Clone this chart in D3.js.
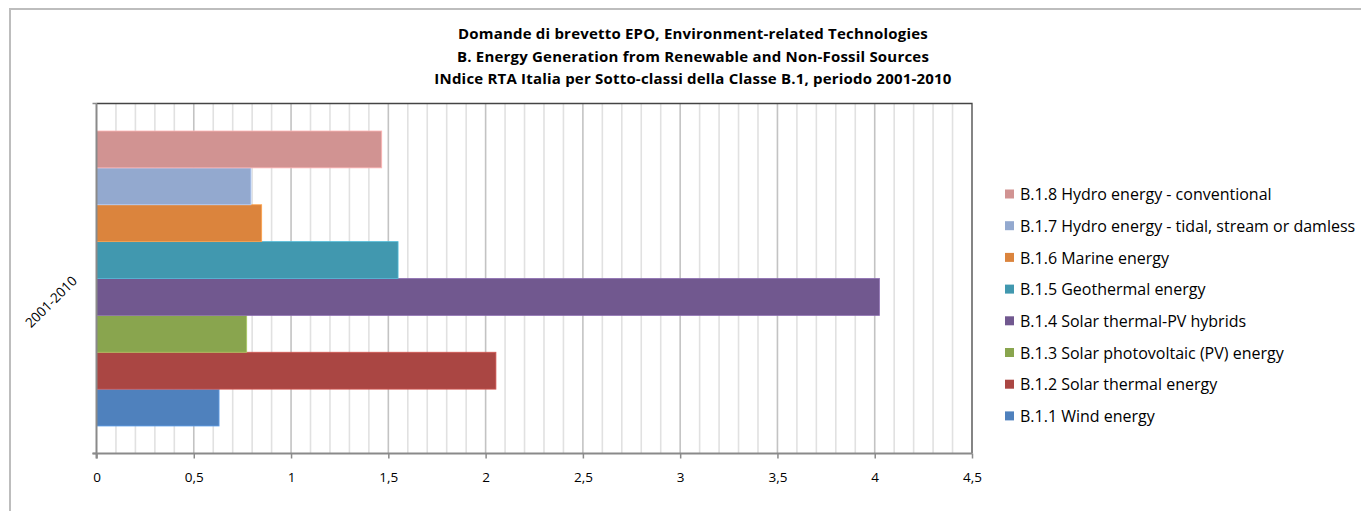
<!DOCTYPE html>
<html>
<head>
<meta charset="utf-8">
<script src="https://cdn.jsdelivr.net/npm/d3@7"></script>
<style>
  html, body { margin: 0; padding: 0; background: #fff; }
  svg { display: block; }
</style>
</head>
<body>
<div id="chart"></div>
<script>
const width = 1361;
const height = 511;

// Data
const categories = ['2001-2010'];
const seriesNames = [
  'B.1.1 Wind energy',
  'B.1.2 Solar thermal energy',
  'B.1.3 Solar photovoltaic (PV) energy',
  'B.1.4 Solar thermal-PV hybrids',
  'B.1.5 Geothermal energy',
  'B.1.6 Marine energy',
  'B.1.7 Hydro energy - tidal, stream or damless',
  'B.1.8 Hydro energy - conventional',
];
const seriesValues = [0.63, 2.053, 0.772, 4.024, 1.55, 0.849, 0.794, 1.466];
const seriesColors = ['#4F81BD', '#AA4643', '#89A54E', '#71588F', '#4198AF', '#DB843D', '#93A9CF', '#D19392'];
const titleLines = [
  'Domande di brevetto EPO, Environment-related Technologies',
  'B. Energy Generation from Renewable and Non-Fossil Sources',
  'INdice RTA Italia per Sotto-classi della Classe B.1, periodo 2001-2010',
];
const xMax = 4.5;

const font = '"Open Sans", sans-serif';
const plot = { left: 96.5, right: 972, top: 103.5, bottom: 453.5 };

const svg = d3.select('#chart').append('svg')
  .attr('width', width)
  .attr('height', height)
  .attr('viewBox', `0 0 ${width} ${height}`);

// Outer frame of the chart object (top and left edges visible)
svg.append('line')
  .attr('x1', 9).attr('x2', width).attr('y1', 9).attr('y2', 9)
  .attr('stroke', '#bdbdbd').attr('stroke-width', 2);
svg.append('line')
  .attr('x1', 10).attr('x2', 10).attr('y1', 9).attr('y2', height)
  .attr('stroke', '#bdbdbd').attr('stroke-width', 2);

// Title
svg.append('g')
  .selectAll('text')
  .data(titleLines)
  .enter()
  .append('text')
  .attr('x', 693)
  .attr('y', (_, i) => 39 + i * 22.5)
  .attr('text-anchor', 'middle')
  .attr('font-family', font)
  .attr('font-weight', 'bold')
  .attr('font-size', 15)
  .attr('letter-spacing', 0.2)
  .attr('fill', '#000')
  .text((d) => d);

const x = d3.scaleLinear().domain([0, xMax]).range([plot.left, plot.right]);
const y0 = d3.scaleBand()
  .domain(categories)
  .range([plot.top, plot.bottom])
  .paddingInner(0)
  .paddingOuter(0.0932);
// Excel draws the last series on top
const y1 = d3.scaleBand()
  .domain(seriesNames.slice().reverse())
  .range([0, y0.bandwidth()]);

// Gridlines: minor every 0.1, major every 0.5
const minorTicks = d3.range(1, 45).map((d) => d / 10).filter((_, i) => (i + 1) % 5 !== 0);
const majorTicks = d3.range(1, 9).map((d) => d / 2);

svg.append('g')
  .selectAll('line')
  .data(minorTicks)
  .enter()
  .append('line')
  .attr('x1', (d) => x(d)).attr('x2', (d) => x(d))
  .attr('y1', plot.top).attr('y2', plot.bottom)
  .attr('stroke', '#e1e1e1').attr('stroke-width', 1.6);

svg.append('g')
  .selectAll('line')
  .data(majorTicks)
  .enter()
  .append('line')
  .attr('x1', (d) => x(d)).attr('x2', (d) => x(d))
  .attr('y1', plot.top).attr('y2', plot.bottom)
  .attr('stroke', '#c3c3c3').attr('stroke-width', 1.6);

// Plot border: top and right dark
svg.append('path')
  .attr('d', `M${plot.left},${plot.top}H${plot.right}V${plot.bottom}`)
  .attr('fill', 'none').attr('stroke', '#444').attr('stroke-width', 1.3);

// Bars
const bars = seriesNames.map((name, i) => ({ name, value: seriesValues[i], color: seriesColors[i] }));
svg.append('g')
  .selectAll('g')
  .data(categories)
  .enter()
  .append('g')
  .attr('transform', (c) => `translate(0,${y0(c)})`)
  .selectAll('rect')
  .data(bars)
  .enter()
  .append('rect')
  .attr('x', x(0))
  .attr('y', (d) => y1(d.name))
  .attr('width', (d) => x(d.value) - x(0))
  .attr('height', y1.bandwidth())
  .attr('fill', (d) => d.color)
  .attr('stroke', (d) => d3.color(d.color).brighter(0.6))
  .attr('stroke-width', 0.8);

// X axis
const fmt = (d) => String(d).replace('.', ',');
const xAxis = svg.append('g')
  .attr('transform', `translate(0,${plot.bottom})`)
  .call(d3.axisBottom(x).tickValues(d3.range(0, 10).map((d) => d / 2)).tickSize(5).tickPadding(14).tickFormat(fmt));
xAxis.select('.domain').attr('stroke', '#8a8a8a').attr('stroke-width', 2).attr('d', `M${plot.left - 4},0H${plot.right}`);
xAxis.selectAll('.tick line').attr('stroke', '#8a8a8a').attr('stroke-width', 1.5);
xAxis.selectAll('.tick text')
  .attr('font-family', font)
  .attr('font-size', 13.5)
  .attr('fill', '#000');

// Y axis (category)
const yAxis = svg.append('g');
yAxis.append('line')
  .attr('x1', plot.left).attr('x2', plot.left)
  .attr('y1', plot.top).attr('y2', plot.bottom + 5)
  .attr('stroke', '#8a8a8a').attr('stroke-width', 2);
yAxis.selectAll('.ytick')
  .data([plot.top, plot.bottom])
  .enter()
  .append('line')
  .attr('x1', plot.left - 4).attr('x2', plot.left)
  .attr('y1', (d) => d).attr('y2', (d) => d)
  .attr('stroke', '#8a8a8a').attr('stroke-width', 1.5);
yAxis.selectAll('text')
  .data(categories)
  .enter()
  .append('text')
  .attr('transform', (c) => `translate(${plot.left - 22},${y0(c) + y0.bandwidth() / 2}) rotate(-45)`)
  .attr('text-anchor', 'end')
  .attr('dy', '0.35em')
  .attr('font-family', font)
  .attr('font-size', 13.5)
  .attr('fill', '#000')
  .text((d) => d);

// Legend (top to bottom: B.1.8 ... B.1.1)
const legendItems = bars.slice().reverse();
const legend = svg.append('g')
  .selectAll('g')
  .data(legendItems)
  .enter()
  .append('g')
  .attr('transform', (_, i) => `translate(1005,${194.5 + i * 31.7})`);
legend.append('rect')
  .attr('x', 0).attr('y', -5)
  .attr('width', 9).attr('height', 9)
  .attr('fill', (d) => d.color);
legend.append('text')
  .attr('x', 15)
  .attr('dy', '0.35em')
  .attr('font-family', font)
  .attr('font-size', 16)
  .attr('fill', '#000')
  .text((d) => d.name);
</script>
</body>
</html>
